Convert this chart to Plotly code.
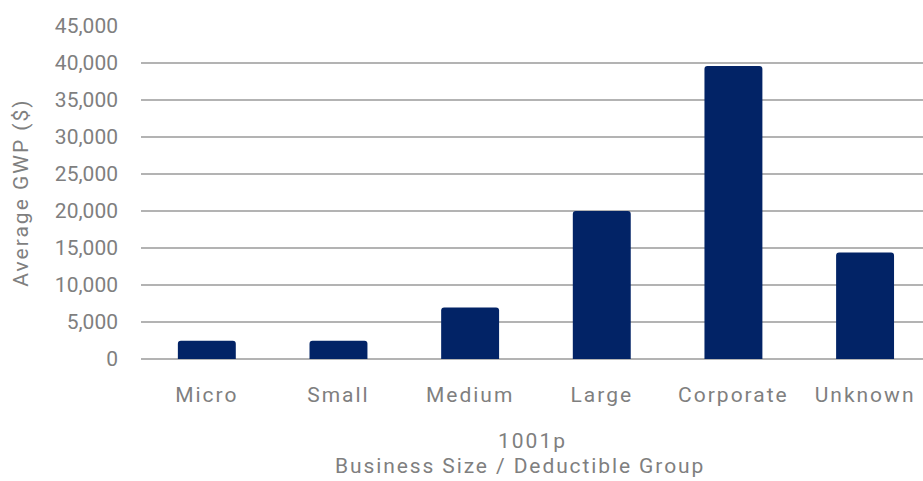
import plotly.graph_objects as go

# Average gross written premium by business size
categories = ["Micro", "Small", "Medium", "Large", "Corporate", "Unknown"]
avg_gwp = [2450, 2450, 6950, 20000, 39600, 14400]
y_ticks = [0, 5000, 10000, 15000, 20000, 25000, 30000, 35000, 40000, 45000]

FONT = "Roboto"
GREY = "#7f7f7f"


def spaced(text, px=2):
    """Wrap label text in a span with extra letter spacing."""
    return f'<span style="letter-spacing:{px}px">{text}</span>'


fig = go.Figure(
    go.Bar(
        x=list(range(len(categories))),
        y=avg_gwp,
        marker=dict(color="#022366", line=dict(width=0)),
        width=0.44,
    )
)

fig.update_layout(
    width=923,
    height=481,
    margin=dict(l=141, r=0, t=26, b=122),
    plot_bgcolor="white",
    paper_bgcolor="white",
    barcornerradius=3,
    showlegend=False,
    font=dict(family=FONT, color=GREY, size=21),
)

fig.update_xaxes(
    tickmode="array",
    tickvals=list(range(len(categories))),
    ticktext=[spaced(c) for c in categories],
    range=[-0.5, 5.44],
    showgrid=False,
    zeroline=False,
    showline=False,
    ticks="",
    ticklabelstandoff=21,
    tickfont=dict(size=21, color=GREY),
)

# Two-line x-axis caption
fig.add_annotation(
    text=spaced("1001p"), xref="paper", yref="paper",
    x=0.501, y=-0.247, xanchor="center", yanchor="middle",
    showarrow=False, font=dict(size=21, color=GREY),
)
fig.add_annotation(
    text=spaced("Business Size / Deductible Group", 1.9), xref="paper", yref="paper",
    x=0.485, y=-0.322, xanchor="center", yanchor="middle",
    showarrow=False, font=dict(size=21, color=GREY),
)

fig.update_yaxes(
    range=[0, 45000],
    tickmode="array",
    tickvals=y_ticks,
    ticktext=[f"{v:,}" for v in y_ticks],
    showgrid=True,
    gridcolor="#b3b3b3",
    gridwidth=1.5,
    zeroline=True,
    zerolinecolor="#b3b3b3",
    zerolinewidth=1.5,
    showline=False,
    ticks="",
    ticklabelstandoff=22,
    tickfont=dict(size=21, color=GREY),
    title=dict(text=spaced("Average GWP ($)"), font=dict(size=21, color=GREY), standoff=20),
)

fig.write_html("out.html")
